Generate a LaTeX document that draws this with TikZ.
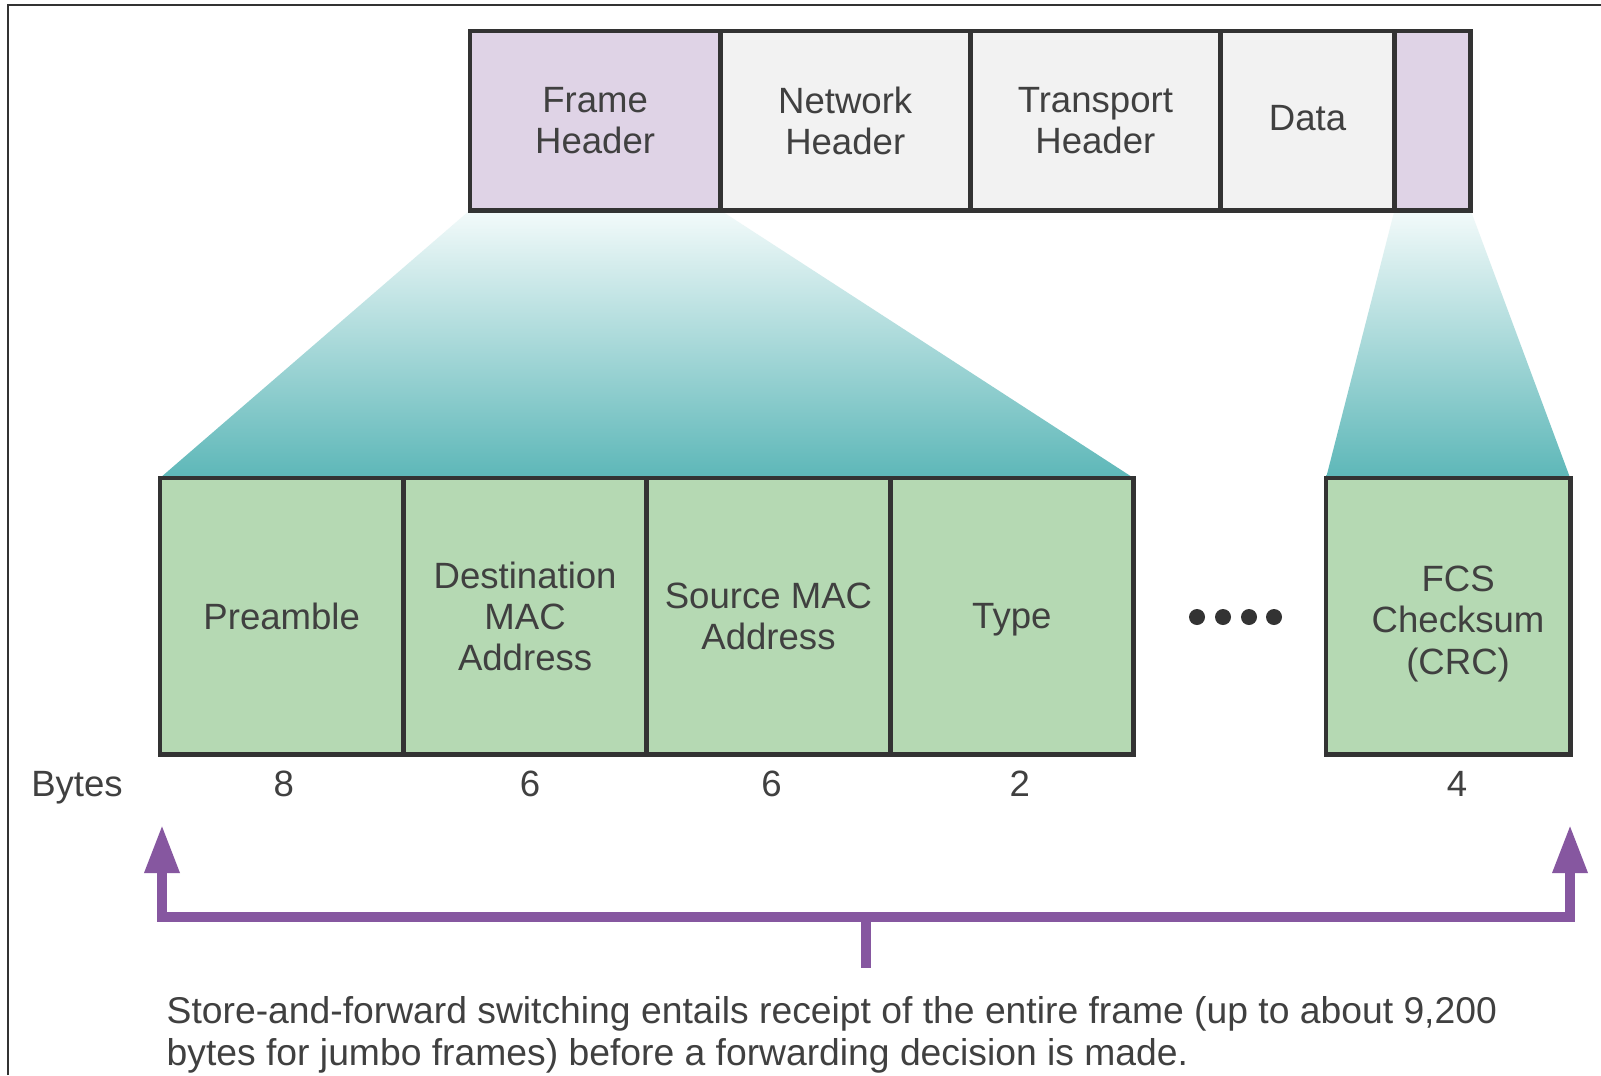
\documentclass[tikz,border=0pt]{standalone}
\usepackage{fontspec}
\setmainfont{Liberation Sans}
\usetikzlibrary{positioning, arrows.meta, backgrounds}
\definecolor{boxline}{HTML}{333333}
\definecolor{hdrpurple}{HTML}{DFD3E6}
\definecolor{hdrgray}{HTML}{F2F2F2}
\definecolor{fieldgreen}{HTML}{B5D9B3}
\definecolor{tealdark}{HTML}{5DB7B8}
\definecolor{teallight}{HTML}{F3FAFA}
\definecolor{arrowpurple}{HTML}{8657A0}
\definecolor{txtgray}{HTML}{404040}

\begin{document}
\begin{tikzpicture}[x=0.01cm, y=-0.01cm,
    every node/.style={font=\fontsize{10.4}{11.7}\selectfont, text=txtgray},
    hdr/.style={draw=boxline, line width=1.4pt, fill=hdrgray, minimum width=2.5cm, minimum height=1.79cm, inner sep=0pt, outer sep=0pt, align=center},
    field/.style={hdr, fill=fieldgreen, minimum width=2.4325cm, minimum height=2.76cm, text depth=0pt},
    dot/.style={circle, fill=boxline, minimum size=0.16cm, inner sep=0pt},
    spanarrow/.style={draw=arrowpurple, line width=2.7pt},
    >={Triangle[length=0.48cm, width=0.33cm]}]
    \useasboundingbox (0,0) rectangle (1601,1075);
    \draw [boxline, line width=0.6pt] (8,1075) -- (8,5) -- (1601,5);

    \node [hdr, fill=hdrpurple, anchor=north west] (frmhdr) at (470,31) {Frame\\Header};
    \node [hdr, right=0pt of frmhdr] (nethdr) {Network\\Header};
    \node [hdr, right=0pt of nethdr] (trnhdr) {Transport\\Header};
    \node [hdr, right=0pt of trnhdr, minimum width=1.74cm, text depth=1.5pt] (data) {Data};
    \node [hdr, fill=hdrpurple, right=0pt of data, minimum width=0.76cm] (trailer) {};

    \node [field, anchor=north west] (pre) at (160,478) {Preamble};
    \node [field, right=0pt of pre] (dst) {Destination\\MAC\\Address};
    \node [field, right=0pt of dst] (src) {Source MAC\\Address};
    \node [field, right=0pt of src] (type) {Type};
    \node [field, anchor=north west, minimum width=2.44cm] (fcs) at (1326,478) {};
    \node [align=center, text depth=0pt, inner sep=0pt] (fcstext) at ([xshift=0.1cm, yshift=-0.04cm]fcs.center) {FCS\\Checksum\\(CRC)};

    \begin{scope}[on background layer]
    \fill [white] (0,0) rectangle (1601,1075);
    \shade [top color=teallight, bottom color=tealdark] (frmhdr.south west) -- (frmhdr.south east) -- (type.north east) -- (pre.north west) -- cycle;
    \shade [top color=teallight, bottom color=tealdark] (trailer.south west) -- (trailer.south east) -- (fcs.north east) -- (fcs.north west) -- cycle;
    \end{scope}

    \foreach \x [count=\i] in {1197,1223,1249,1274}
    \node [dot] (dot\i) at (\x,617) {};

    \node [text depth=0pt] (bytes) at (77,784) {Bytes};
    \foreach \f/\n/\d in {pre/8/2, dst/6/5, src/6/3, type/2/8, fcs/4/9}
    \node [xshift={\d*0.01cm}] (bytes\f) at (\f |- bytes) {\n};

    \coordinate (stemend) at (866,968);
    \coordinate (junction) at (866,917);
    \coordinate (lefttip) at (162,825);
    \coordinate (righttip) at (1570,825);
    \draw [spanarrow] (junction) -- (stemend);
    \draw [spanarrow, <->] (lefttip) |- (junction) -| (righttip);

    \node [anchor=west, align=left, inner sep=0pt, font=\fontsize{10.6}{11.8}\selectfont] (note) at (166,1035) {Store-and-forward switching entails receipt of the entire frame (up to about 9,200\\bytes for jumbo frames) before a forwarding decision is made.};
\end{tikzpicture}
\end{document}
